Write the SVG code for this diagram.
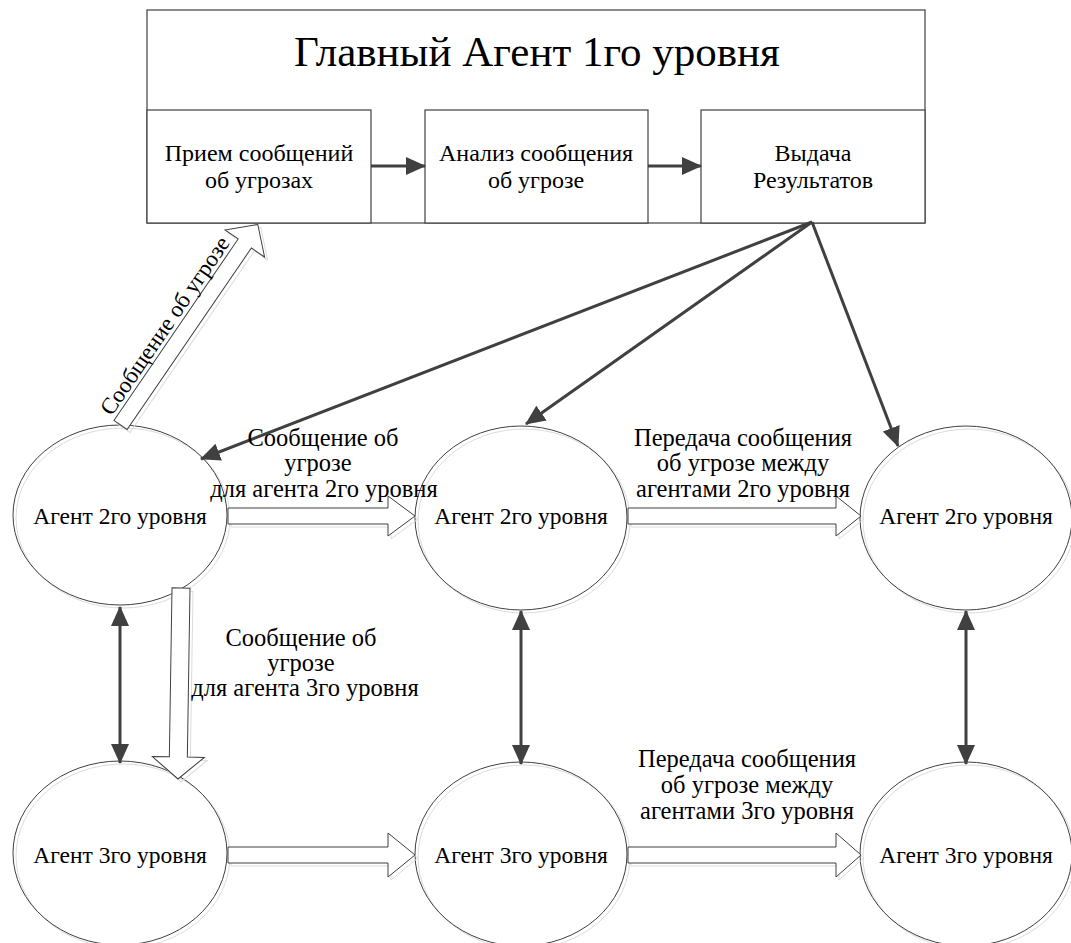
<svg xmlns="http://www.w3.org/2000/svg" width="1071" height="943" viewBox="0 0 1071 943" font-family="Liberation Serif">
<defs>
<style>
.dgtxt{font-family:'Liberation Serif',serif !important;fill:#000;text-anchor:middle}
.dgbox{fill:#fff;stroke:#404040;stroke-width:1.2}
.dgell{fill:none;stroke:#404040;stroke-width:1}
.dgsh{fill:none;stroke:#dcdcdc;stroke-width:1}
.dgblk{fill:#fff;stroke:#404040;stroke-width:1}
.dgdk{stroke:#404040;stroke-width:3;fill:none}
</style>
<marker id="ah" markerUnits="userSpaceOnUse" viewBox="0 0 20 18" markerWidth="20" markerHeight="18" refX="19" refY="9" orient="auto-start-reverse"><path d="M0,0 L20,9 L0,18 Z" fill="#404040"/></marker>
</defs>
<rect width="1071" height="943" fill="#fff"/>

<g id="main">
<rect class="dgbox" x="147" y="10" width="778" height="213"/>
<text class="dgtxt" style="font-family:'Liberation Serif',serif !important" x="537" y="66" font-size="43">Главный Агент 1го уровня</text>
</g>
<g id="receive" font-size="24">
<rect class="dgbox" x="147" y="110" width="224" height="113"/>
<text class="dgtxt" style="font-family:'Liberation Serif',serif !important" x="259" y="161">Прием сообщений</text>
<text class="dgtxt" style="font-family:'Liberation Serif',serif !important" x="259" y="188">об угрозах</text>
</g>
<g id="analyze" font-size="24">
<rect class="dgbox" x="425" y="110" width="223" height="113"/>
<text class="dgtxt" style="font-family:'Liberation Serif',serif !important" x="536" y="161">Анализ сообщения</text>
<text class="dgtxt" style="font-family:'Liberation Serif',serif !important" x="536" y="188">об угрозе</text>
</g>
<g id="output" font-size="24">
<rect class="dgbox" x="701" y="110" width="224" height="113"/>
<text class="dgtxt" style="font-family:'Liberation Serif',serif !important" x="813" y="161">Выдача</text>
<text class="dgtxt" style="font-family:'Liberation Serif',serif !important" x="813" y="188">Результатов</text>
</g>

<g id="a2-left" font-size="23.5">
<ellipse class="dgsh" cx="123" cy="518" rx="107" ry="90"/>
<ellipse class="dgell" cx="120" cy="515" rx="107" ry="90"/>
<text class="dgtxt" style="font-family:'Liberation Serif',serif !important" x="120" y="524">Агент 2го уровня</text>
</g>
<g id="a2-mid" font-size="23.5">
<ellipse class="dgsh" cx="524" cy="521" rx="106" ry="92"/>
<ellipse class="dgell" cx="521" cy="518" rx="106" ry="92"/>
<text class="dgtxt" style="font-family:'Liberation Serif',serif !important" x="521" y="524">Агент 2го уровня</text>
</g>
<g id="a2-right" font-size="23.5">
<ellipse class="dgsh" cx="969" cy="521" rx="106" ry="92"/>
<ellipse class="dgell" cx="966" cy="518" rx="106" ry="92"/>
<text class="dgtxt" style="font-family:'Liberation Serif',serif !important" x="966" y="524">Агент 2го уровня</text>
</g>
<g id="a3-left" font-size="23.5">
<ellipse class="dgsh" cx="123" cy="856" rx="107" ry="92"/>
<ellipse class="dgell" cx="120" cy="853" rx="107" ry="92"/>
<text class="dgtxt" style="font-family:'Liberation Serif',serif !important" x="120" y="863">Агент 3го уровня</text>
</g>
<g id="a3-mid" font-size="23.5">
<ellipse class="dgsh" cx="524" cy="857" rx="106" ry="92"/>
<ellipse class="dgell" cx="521" cy="854" rx="106" ry="92"/>
<text class="dgtxt" style="font-family:'Liberation Serif',serif !important" x="521" y="863">Агент 3го уровня</text>
</g>
<g id="a3-right" font-size="23.5">
<ellipse class="dgsh" cx="969" cy="857" rx="106" ry="92"/>
<ellipse class="dgell" cx="966" cy="854" rx="106" ry="92"/>
<text class="dgtxt" style="font-family:'Liberation Serif',serif !important" x="966" y="863">Агент 3го уровня</text>
</g>

<g id="connectors">
<line class="dgdk" x1="371" y1="166" x2="425" y2="166" marker-end="url(#ah)"/>
<line class="dgdk" x1="648" y1="166" x2="701" y2="166" marker-end="url(#ah)"/>
<line class="dgdk" x1="812" y1="222" x2="201" y2="459" marker-end="url(#ah)"/>
<line class="dgdk" x1="812" y1="222" x2="526" y2="424" marker-end="url(#ah)"/>
<line class="dgdk" x1="812" y1="222" x2="898" y2="446" marker-end="url(#ah)"/>
<line class="dgdk" x1="120" y1="607" x2="120" y2="763" marker-start="url(#ah)" marker-end="url(#ah)"/>
<line class="dgdk" x1="521" y1="611" x2="521" y2="764" marker-start="url(#ah)" marker-end="url(#ah)"/>
<line class="dgdk" x1="966" y1="611" x2="966" y2="764" marker-start="url(#ah)" marker-end="url(#ah)"/>

<g id="blk-up">
<path class="dgsh" transform="translate(123.5,428) rotate(-55.6)" d="M0,-8 L220,-8 L220,-24 L243,0 L220,24 L220,8 L0,8 Z"/>
<path class="dgblk" transform="translate(120.5,425) rotate(-55.6)" d="M0,-8 L220,-8 L220,-24 L243,0 L220,24 L220,8 L0,8 Z"/>
<text class="dgtxt" style="font-family:'Liberation Serif',serif !important" font-size="23" transform="translate(120.5,425) rotate(-55.6)" x="107" y="-12">Сообщение об угрозе</text>
</g>
<g id="blk-r2a">
<path class="dgsh" transform="translate(231,519)" d="M0,-8 L160,-8 L160,-20 L187,0 L160,20 L160,8 L0,8 Z"/>
<path class="dgblk" transform="translate(228,516)" d="M0,-8 L160,-8 L160,-20 L187,0 L160,20 L160,8 L0,8 Z"/>
</g>
<g id="blk-r2b">
<path class="dgsh" transform="translate(631,519)" d="M0,-8 L208,-8 L208,-20 L233,0 L208,20 L208,8 L0,8 Z"/>
<path class="dgblk" transform="translate(628,516)" d="M0,-8 L208,-8 L208,-20 L233,0 L208,20 L208,8 L0,8 Z"/>
</g>
<g id="blk-r3a">
<path class="dgsh" transform="translate(231,858)" d="M0,-8 L160,-8 L160,-22 L187,0 L160,22 L160,8 L0,8 Z"/>
<path class="dgblk" transform="translate(228,855)" d="M0,-8 L160,-8 L160,-22 L187,0 L160,22 L160,8 L0,8 Z"/>
</g>
<g id="blk-r3b">
<path class="dgsh" transform="translate(631,858)" d="M0,-8 L208,-8 L208,-22 L233,0 L208,22 L208,8 L0,8 Z"/>
<path class="dgblk" transform="translate(628,855)" d="M0,-8 L208,-8 L208,-22 L233,0 L208,22 L208,8 L0,8 Z"/>
</g>
<g id="blk-down">
<path class="dgsh" transform="translate(184,591) rotate(90.9)" d="M0,-9 L169,-9 L169,-26 L191,0 L169,26 L169,9 L0,9 Z"/>
<path class="dgblk" transform="translate(181,588) rotate(90.9)" d="M0,-9 L169,-9 L169,-26 L191,0 L169,26 L169,9 L0,9 Z"/>
</g>

<g id="labels" font-size="24.5">
<text class="dgtxt" style="font-family:'Liberation Serif',serif !important" x="323" y="446">Сообщение об</text>
<text class="dgtxt" style="font-family:'Liberation Serif',serif !important" x="318" y="471">угрозе</text>
<text class="dgtxt" style="font-family:'Liberation Serif',serif !important" x="324" y="497">для агента 2го уровня</text>
<text class="dgtxt" style="font-family:'Liberation Serif',serif !important" x="743" y="446">Передача сообщения</text>
<text class="dgtxt" style="font-family:'Liberation Serif',serif !important" x="743" y="471">об угрозе между</text>
<text class="dgtxt" style="font-family:'Liberation Serif',serif !important" x="743" y="497">агентами 2го уровня</text>
<text class="dgtxt" style="font-family:'Liberation Serif',serif !important" x="301" y="646">Сообщение об</text>
<text class="dgtxt" style="font-family:'Liberation Serif',serif !important" x="301" y="671">угрозе</text>
<text class="dgtxt" style="font-family:'Liberation Serif',serif !important" x="305" y="696">для агента 3го уровня</text>
<text class="dgtxt" style="font-family:'Liberation Serif',serif !important" x="747" y="767">Передача сообщения</text>
<text class="dgtxt" style="font-family:'Liberation Serif',serif !important" x="747" y="793">об угрозе между</text>
<text class="dgtxt" style="font-family:'Liberation Serif',serif !important" x="747" y="819">агентами 3го уровня</text>
</g>
</g>
</svg>
